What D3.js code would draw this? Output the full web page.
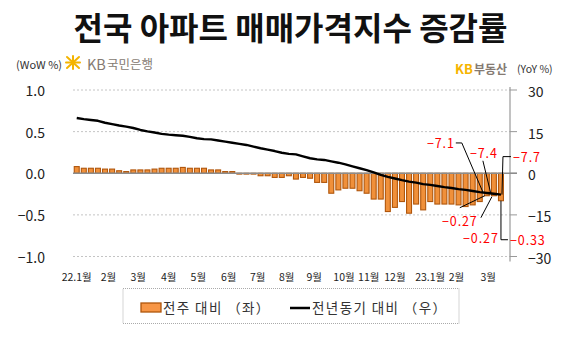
<!DOCTYPE html>
<html><head><meta charset="utf-8">
<script src="https://cdn.jsdelivr.net/npm/d3@7"></script>
<style>body{margin:0;background:#fff}svg{display:block}text{font-family:"Noto Sans CJK KR","Noto Sans",sans-serif}</style>
</head><body><svg id="c" width="581" height="337"></svg>
<script>
// Weekly change vs previous week (%), left axis
const wow = [0.08,0.06,0.06,0.06,0.05,0.05,0.03,0.02,0.04,0.04,0.04,0.05,0.06,0.06,0.06,0.07,0.06,0.06,0.06,0.04,
  0.04,0.02,0.02,-0.01,-0.01,-0.01,-0.03,-0.03,-0.05,-0.05,-0.03,-0.07,-0.05,-0.06,-0.11,-0.11,-0.24,-0.20,-0.18,-0.18,
  -0.21,-0.24,-0.31,-0.31,-0.46,-0.41,-0.34,-0.48,-0.37,-0.44,-0.34,-0.37,-0.37,-0.37,-0.38,-0.40,-0.38,-0.34,-0.27,-0.27,-0.33];
// Change vs same period last year (%), right axis
const yoy = [19.9,19.5,19.2,18.9,18.2,17.7,17.2,16.8,16.3,15.6,15.1,14.7,14.2,13.9,13.7,13.5,13.1,12.6,12.3,12.2,
  11.8,11.4,11.0,10.6,10.2,9.6,9.0,8.5,8.0,7.4,7.0,6.8,6.1,5.4,5.0,4.8,4.3,3.8,3.2,2.5,
  1.8,1.1,0.3,-0.6,-1.3,-1.9,-2.5,-3.0,-3.4,-3.9,-4.2,-4.6,-5.0,-5.3,-5.7,-6.0,-6.4,-6.8,-7.1,-7.4,-7.7];
const xTickLabels = ["22.1월","2월","3월","4월","5월","6월","7월","8월","9월","10월","11월","12월","23.1월","2월","3월"];
const xTickAt = [0,4.5,8.7,13,17.2,21.5,25.6,29.7,33.6,37.8,41.3,45,50,53.7,58.2];
const leftTicks = [1.0,0.5,0,-0.5,-1.0];
const rightTicks = [30,15,0,-15,-30];
const seriesNames = ["전주 대비 （좌）","전년동기 대비 （우）"];
const title = "전국 아파트 매매가격지수 증감률";

const svg = d3.select("#c");
const x = d3.scaleBand().domain(d3.range(wow.length)).range([73.2,504.5]).paddingInner(0.3).paddingOuter(0.15);
const yL = d3.scaleLinear().domain([-1,1]).range([256.5,90]);
const yR = d3.scaleLinear().domain([-30,30]).range([256.5,90]);
const xc = i => x(i) + x.bandwidth()/2;
const xIdx = v => x(0) + x.bandwidth()/2 + v*x.step();
const plotL = 73, axisX = 510;

// title
svg.append("text").attr("x",290.5).attr("y",26).attr("text-anchor","middle").attr("dominant-baseline","central")
  .attr("font-size",32).attr("font-weight","bold").attr("fill","#111").text(title);

// header labels
svg.append("text").attr("x",16).attr("y",63.5).attr("dominant-baseline","central").attr("font-size",11).attr("fill","#333").text("(WoW %)");
const lg = svg.append("g").attr("stroke","#f4b400").attr("stroke-width",2).attr("stroke-linecap","round");
[[67,57,79,68],[79,57,67,68],[66,62.5,80,62.5],[73,56,73,69]].forEach(d=>lg.append("line").attr("x1",d[0]).attr("y1",d[1]).attr("x2",d[2]).attr("y2",d[3]));
svg.append("text").attr("x",87).attr("y",63.5).attr("dominant-baseline","central").attr("font-size",14.5).attr("fill","#857a72").text("KB");
svg.append("text").attr("x",107).attr("y",63.5).attr("dominant-baseline","central").attr("font-size",12.5).attr("fill","#857a72").text("국민은행");
svg.append("text").attr("x",455).attr("y",68.5).attr("dominant-baseline","central").attr("font-size",13).attr("font-weight","bold").attr("fill","#f6b400").text("KB");
svg.append("text").attr("x",474).attr("y",68.5).attr("dominant-baseline","central").attr("font-size",12).attr("font-weight","bold").attr("fill","#857a72").text("부동산");
svg.append("text").attr("x",517).attr("y",68.5).attr("dominant-baseline","central").attr("font-size",10.5).attr("fill","#333").text("(YoY %)");

// grid
svg.append("g").selectAll("line").data(leftTicks.filter(d=>d!==0)).join("line")
  .attr("x1",plotL).attr("x2",axisX).attr("y1",d=>yL(d)).attr("y2",d=>yL(d))
  .attr("stroke","#c4c4c4").attr("stroke-dasharray","2,2").attr("stroke-width",1);
// right axis ticks
svg.append("g").selectAll("line").data(rightTicks).join("line")
  .attr("x1",axisX).attr("x2",axisX+7).attr("y1",d=>yR(d)).attr("y2",d=>yR(d)).attr("stroke","#999");
svg.append("line").attr("x1",axisX).attr("x2",axisX).attr("y1",yR(30)-3).attr("y2",yR(-30)+5).attr("stroke","#999").attr("stroke-width",1.2);

// tick labels
const fL = d3.format(".1f"), fR = d3.format("d");
svg.append("g").selectAll("text").data(leftTicks).join("text")
  .attr("x",45).attr("y",d=>yL(d)).attr("text-anchor","end").attr("dominant-baseline","central")
  .attr("font-size",14).attr("fill","#222").text(d=>fL(d));
svg.append("g").selectAll("text").data(rightTicks).join("text")
  .attr("x",528).attr("y",d=>yR(d)+1).attr("dominant-baseline","central")
  .attr("font-size",14).attr("fill","#222").text(d=>fR(d));

// bars
svg.append("g").selectAll("rect").data(wow).join("rect")
  .attr("x",(d,i)=>x(i)).attr("width",x.bandwidth())
  .attr("y",d=>Math.min(yL(d),yL(0))).attr("height",d=>Math.abs(yL(d)-yL(0)))
  .attr("fill","#f0903a").attr("stroke","#b0560c").attr("stroke-width",1.1);

// zero line
svg.append("line").attr("x1",plotL).attr("x2",axisX+7).attr("y1",yL(0)).attr("y2",yL(0)).attr("stroke","#8c8c8c").attr("stroke-width",1.5);

// yoy line
svg.append("path").datum(yoy).attr("fill","none").attr("stroke","#000").attr("stroke-width",2.4).attr("stroke-linejoin","round")
  .attr("d",d3.line().x((d,i)=>xc(i)).y(d=>yR(d)));

// x labels
svg.append("g").selectAll("text").data(xTickLabels).join("text")
  .attr("x",(d,i)=>xIdx(xTickAt[i])).attr("y",276).attr("text-anchor","middle").attr("dominant-baseline","central")
  .attr("font-size",10.5).attr("fill","#222").text(d=>d);

// annotations
const n = wow.length;
const ann = svg.append("g");
const red = "#ff0000";
const fY = d3.format(".1f"), fW = d3.format(".2f");
function lbl(tx,ty,anchor,t){ann.append("text").attr("x",tx).attr("y",ty).attr("text-anchor",anchor).attr("dominant-baseline","central").attr("font-size",12.5).attr("letter-spacing",0.9).attr("fill",red).text(t);}
function leader(pts){ann.append("path").attr("d",d3.line()(pts)).attr("fill","none").attr("stroke","#000").attr("stroke-width",1);}
// YoY labels
const p1=[xc(n-3),yR(yoy[n-3])], p2=[xc(n-2),yR(yoy[n-2])], p3=[xc(n-1),yR(yoy[n-1])];
lbl(p1[0]-32,p1[1]-50,"end",fY(yoy[n-3]));
leader([[p1[0]-31,p1[1]-50],[p1[0]-25,p1[1]-50],[p1[0]-4,p1[1]-1]]);
lbl(p2[0]-10,p2[1]-41,"middle",fY(yoy[n-2]));
leader([[p2[0]-11,p2[1]-33],[p2[0]-3,p2[1]]]);
lbl(p3[0]+12,p3[1]-38,"start",fY(yoy[n-1]));
leader([[p3[0]+10,p3[1]-38],[p3[0]+2,p3[1]-38],[p3[0]+1,p3[1]]]);
// WoW labels
const b1=[xc(n-3),yL(wow[n-3])], b2=[xc(n-2),yL(wow[n-2])], b3=[xc(n-1),yL(wow[n-1])];
leader([[b1[0]-27,b1[1]+12],[b1[0]-2,b1[1]]]);
lbl(b1[0]-27,b1[1]+25,"middle",fW(wow[n-3]));
leader([[b2[0]-13,b2[1]+22],[b2[0]-2,b2[1]+1]]);
lbl(b2[0]-13,b2[1]+42,"middle",fW(wow[n-2]));
leader([[b3[0]+7,b3[1]+39],[b3[0],b3[1]+39],[b3[0],b3[1]]]);
lbl(b3[0]+9,b3[1]+39,"start",fW(wow[n-1]));

// legend
svg.append("rect").attr("x",123).attr("y",288.5).attr("width",336).attr("height",35)
  .attr("fill","none").attr("stroke","#aaa").attr("stroke-dasharray","1,1");
svg.append("rect").attr("x",141).attr("y",303).attr("width",20).attr("height",9)
  .attr("fill","#f79646").attr("stroke","#b0560c").attr("stroke-width",1.3);
svg.append("line").attr("x1",290).attr("x2",310).attr("y1",308).attr("y2",308).attr("stroke","#000").attr("stroke-width",2.5);
svg.append("text").attr("x",163).attr("y",307).attr("dominant-baseline","central").attr("font-size",13.5).attr("letter-spacing",1.4).attr("fill","#333").text(seriesNames[0]);
svg.append("text").attr("x",312).attr("y",307).attr("dominant-baseline","central").attr("font-size",13.5).attr("letter-spacing",1.4).attr("fill","#333").text(seriesNames[1]);
</script></body></html>
